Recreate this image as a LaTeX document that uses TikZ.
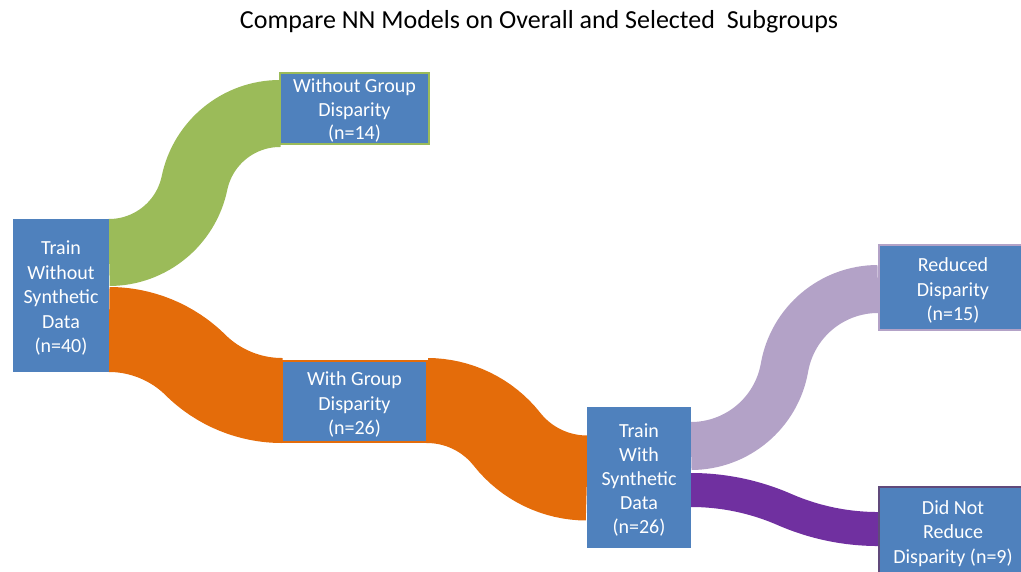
\documentclass[tikz,border=0pt]{standalone}
\usepackage{fontspec}
\setmainfont{Carlito}
\usetikzlibrary{calc}
\definecolor{boxblue}{HTML}{4F81BD}
\definecolor{bandgreen}{HTML}{9BBB59}
\definecolor{bandorange}{HTML}{E46C0A}
\definecolor{bandlav}{HTML}{B3A2C7}
\definecolor{bandpurple}{HTML}{7030A0}
\definecolor{borderpurple}{HTML}{604A7B}
\tikzset{
  box/.style={fill=boxblue, inner sep=0pt},
  boxtext/.style={text=white, align=center, inner sep=0pt,
    font=\fontsize{20}{24.5}\selectfont},
  band/.style={line width=#1, line cap=butt},
  title/.style={font=\fontsize{26}{30}\selectfont, anchor=base},
}
\begin{document}
\begin{tikzpicture}[x=1pt,y=1pt]
\useasboundingbox (0,0) rectangle (1021,571);
\node[title] (title) at (539,542) {Compare NN Models on Overall and Selected~ Subgroups};
% band end coordinates
\coordinate (g0) at (109,318.5);
\coordinate (g1) at (280,457.5);
\coordinate (o0) at (109,241.5);
\coordinate (o1) at (282,170.5);
\coordinate (p0) at (427,170.5);
\coordinate (p1) at (587,93);
\coordinate (l0) at (691,125);
\coordinate (l1) at (878,282);
\coordinate (q0) at (691,81);
\coordinate (q1) at (878,42);
% upward bands
\draw[band=67pt, draw=bandgreen] let \p1=(g0), \p2=(g1), \n1={\x2-\x1}, \n2={\y2-\y1},
  \n3={2*atan(abs(\n2)/\n1)}, \n4={\n1/(2*sin(\n3))} in
  (g0) arc[start angle=-90, delta angle=\n3, radius=\n4]
       arc[start angle=90+\n3, delta angle=-\n3, radius=\n4];
\draw[band=48pt, draw=bandlav] let \p1=(l0), \p2=(l1), \n1={\x2-\x1}, \n2={\y2-\y1},
  \n3={2*atan(abs(\n2)/\n1)}, \n4={\n1/(2*sin(\n3))} in
  (l0) arc[start angle=-90, delta angle=\n3, radius=\n4]
       arc[start angle=90+\n3, delta angle=-\n3, radius=\n4];
% downward bands
\draw[band=85pt, draw=bandorange] let \p1=(o0), \p2=(o1), \n1={\x2-\x1}, \n2={\y2-\y1},
  \n3={2*atan(abs(\n2)/\n1)}, \n4={\n1/(2*sin(\n3))} in
  (o0) arc[start angle=90, delta angle=-\n3, radius=\n4]
       arc[start angle=-90-\n3, delta angle=\n3, radius=\n4];
\draw[band=85pt, draw=bandorange] let \p1=(p0), \p2=(p1), \n1={\x2-\x1}, \n2={\y2-\y1},
  \n3={2*atan(abs(\n2)/\n1)}, \n4={\n1/(2*sin(\n3))} in
  (p0) arc[start angle=90, delta angle=-\n3, radius=\n4]
       arc[start angle=-90-\n3, delta angle=\n3, radius=\n4];
\draw[band=34pt, draw=bandpurple] let \p1=(q0), \p2=(q1), \n1={\x2-\x1}, \n2={\y2-\y1},
  \n3={2*atan(abs(\n2)/\n1)}, \n4={\n1/(2*sin(\n3))} in
  (q0) arc[start angle=90, delta angle=-\n3, radius=\n4]
       arc[start angle=-90-\n3, delta angle=\n3, radius=\n4];
% boxes
\node[box, minimum width=96pt, minimum height=153pt] (L) at (61,275.5) {};
\node[boxtext] (Lt) at ([yshift=-3pt]L.center) {Train\\Without\\Synthetic\\Data\\(n=40)};
\node[box, draw=bandgreen, line width=2.5pt, minimum width=149pt, minimum height=71pt] (T) at (354.5,462.5) {};
\node[boxtext, font=\fontsize{20}{23.5}\selectfont] (Tt) at ([yshift=-2pt]T.center) {Without Group\\Disparity\\(n=14)};
\node[box, draw=bandorange, line width=2.5pt, minimum width=145pt, minimum height=81pt] (M) at (354.5,169.5) {};
\node[boxtext] (Mt) at ([yshift=-3pt]M.center) {With Group\\Disparity\\(n=26)};
\node[box, minimum width=104pt, minimum height=141pt] (W) at (639,93.5) {};
\node[boxtext, font=\fontsize{20}{24}\selectfont] (Wt) at ([yshift=-3pt]W.center) {Train\\With\\Synthetic\\Data\\(n=26)};
\node[box, draw=bandlav, line width=2.5pt, minimum width=148pt, minimum height=85pt] (R) at (953,283.5) {};
\node[boxtext] (Rt) at ([yshift=-3pt]R.center) {Reduced\\Disparity\\(n=15)};
\node[box, draw=borderpurple, line width=2.5pt, minimum width=148pt, minimum height=89pt] (D) at (953,39.5) {};
\node[boxtext] (Dt) at ([yshift=-2pt]D.center) {Did Not\\Reduce\\Disparity (n=9)};
\end{tikzpicture}
\end{document}
